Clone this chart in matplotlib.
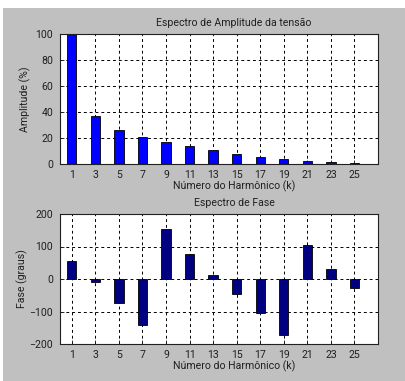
import numpy as np
import matplotlib.pyplot as plt
from matplotlib.patches import Rectangle

# Ordens harmónicas e respetivos espectros
harmonicos = [1, 3, 5, 7, 9, 11, 13, 15, 17, 19, 21, 23, 25]
amplitude = [100, 37, 25.8, 20.4, 16.8, 13.5, 10.5, 7.7, 5.6, 3.6, 2.0, 1.3, 0.8]
fase = [56, -8, -74, -140, 153, 77, 12, -45, -104, -171, 105, 30, -29]

W, H = 405, 381
fig = plt.figure(figsize=(W / 100, H / 100), dpi=100, facecolor='white')
# fundo cinzento ao estilo da janela de figura
fig.patches.append(Rectangle((3 / W, 0), 1, 1 - 8 / H, transform=fig.transFigure,
                             facecolor='#c0c0c0', edgecolor='none', zorder=-10))

plt.rcParams['font.family'] = ['Roboto', 'DejaVu Sans']
fs = 7.6
txt = '#202020'


def eixo(px):
    l, t, r, b = px
    return fig.add_axes([l / W, 1 - b / H, (r - l) / W, (b - t) / H])


def formatar(ax):
    ax.set_xlim(0, 27)
    ax.set_xticks(harmonicos)
    ax.tick_params(direction='in', length=3, labelsize=fs, colors=txt, width=0.6)
    ax.tick_params(axis='y', pad=5)
    ax.tick_params(axis='x', pad=4)
    ax.grid(True, color='black', linestyle=(0, (3, 3)), linewidth=0.7)
    ax.set_axisbelow(True)
    for s in ax.spines.values():
        s.set_linewidth(0.8)
        s.set_color('#202020')


ax1 = eixo((60, 34, 378, 164))
ax1.bar(harmonicos, amplitude, width=0.8, color='#0000ff', edgecolor='black', linewidth=0.6)
ax1.set_ylim(0, 100)
ax1.set_yticks([0, 20, 40, 60, 80, 100])
formatar(ax1)
ax1.set_title('Espectro de Amplitude da tensão', fontsize=fs, color=txt, x=0.547, pad=6)
ax1.set_xlabel('Número do Harmônico (k)', fontsize=fs, color=txt, x=0.547, labelpad=1)
ax1.set_ylabel('Amplitude (%)', fontsize=fs, color=txt, labelpad=3)

ax2 = eixo((60, 214, 378, 344))
ax2.bar(harmonicos, fase, width=0.8, color='#000080', edgecolor='black', linewidth=0.6)
ax2.set_ylim(-200, 200)
ax2.set_yticks([-200, -100, 0, 100, 200])
formatar(ax2)
ax2.set_title('Espectro de Fase', fontsize=fs, color=txt, x=0.547, pad=6)
ax2.set_xlabel('Número do Harmônico (k)', fontsize=fs, color=txt, x=0.547, labelpad=1)
ax2.set_ylabel('Fase (graus)', fontsize=fs, color=txt, labelpad=1)

fig.savefig('out.png', dpi=100, facecolor=fig.get_facecolor())
